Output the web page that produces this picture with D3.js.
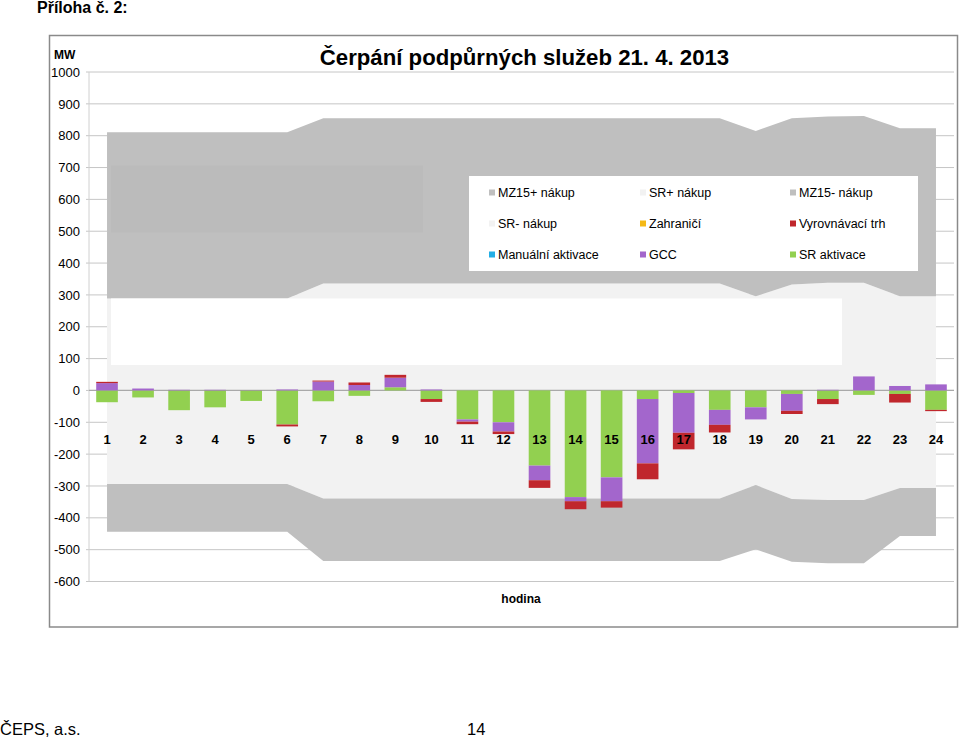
<!DOCTYPE html>
<html>
<head>
<meta charset="utf-8">
<script src="https://cdn.jsdelivr.net/npm/d3@7/dist/d3.min.js"></script>
<style>
  html, body { margin: 0; padding: 0; background: #fff; }
  svg { display: block; }
  text { font-family: "Liberation Sans", Arial, sans-serif; }
</style>
</head>
<body>
<svg id="chart" width="959" height="738"></svg>
<script>
// ---------- DATA ----------
const hours = [1,2,3,4,5,6,7,8,9,10,11,12,13,14,15,16,17,18,19,20,21,22,23,24];

// area series (MW)
const srPlus    = [289,289,289,289,289,289,336,336,336,336,336,336,336,336,336,336,336,336,296,333,338,338,296,296];
const mz15Plus  = [522,522,522,522,522,522,519,519,519,519,519,519,519,519,519,519,519,519,519,522,522,524,527,527];
const srMinus   = [-294,-294,-294,-294,-294,-294,-339,-339,-339,-339,-339,-339,-339,-339,-339,-339,-339,-339,-297,-341,-344,-344,-306,-306];
const mz15Minus = [-150,-150,-150,-150,-150,-150,-197,-197,-197,-197,-197,-197,-197,-197,-197,-197,-197,-197,-202,-197,-199,-199,-151,-151];

// bar series (MW)
const srAktivace  = [-37,-22,-62,-53,-33,-107,-34,-17,10,-27,-91,-100,-236,-335,-273,-27,-8,-61,-53,-11,-27,-14,-11,-61];
const gcc         = [23,6,2,2,1,3,28,17,30,3,-7,-29,-46,-13,-75,-202,-125,-47,-38,-53,2,44,14,19];
const manualni    = [0,0,0,0,0,0,0,0,0,0,0,0,0,0,0,0,0,0,0,0,0,0,0,0];
const vyrovnavaci = [4,0,0,0,0,-6,3,8,9,-9,-8,-8,-24,-25,-20,-50,-52,-24,0,-10,-16,0,-27,-4];
const zahranici   = [0,0,0,0,0,0,0,0,0,0,0,0,0,0,0,0,0,0,0,0,0,0,0,0];

const yTicks = [1000,900,800,700,600,500,400,300,200,100,0,-100,-200,-300,-400,-500,-600];

const legendLabels = ["MZ15+ nákup","SR+ nákup","MZ15- nákup","SR- nákup","Zahraničí","Vyrovnávací trh","Manuální aktivace","GCC","SR aktivace"];
const legendColors = ["#bfbfbf","#f2f2f2","#bfbfbf","#f2f2f2","#f5b916","#c0272d","#23aee5","#a366cc","#92d050"];

const titleText = "Čerpání podpůrných služeb 21. 4. 2013";

// ---------- LAYOUT ----------
const svg = d3.select("#chart");
const plotL = 89, plotR = 954, plotT = 72, plotB = 581.5;

const x = d3.scaleBand().domain(hours).range([plotL, plotR]).paddingInner(0.4).paddingOuter(0.2);
const xc = h => x(h) + x.bandwidth() / 2;
const y = d3.scaleLinear().domain([-600, 1000]).range([plotB, plotT]);

svg.append("rect").attr("width", 959).attr("height", 738).attr("fill", "#fff");

// gridlines
const grid = svg.append("g");
grid.selectAll("line").data(yTicks).join("line")
  .attr("x1", plotL - 3).attr("x2", plotR)
  .attr("y1", d => y(d)).attr("y2", d => y(d))
  .attr("stroke", "#c6c6c6").attr("stroke-width", 1);
// y axis line
svg.append("line").attr("x1", plotL).attr("x2", plotL).attr("y1", y(1000)).attr("y2", y(-600))
  .attr("stroke", "#d0d0d0").attr("stroke-width", 1);

// y labels via d3 axis (plain hyphen-minus as in the original)
const yAxis = d3.axisLeft(y).tickValues(yTicks).tickSize(0).tickPadding(9).tickFormat(d => String(d));
const gy = svg.append("g").attr("transform", `translate(${plotL},0)`).call(yAxis);
gy.select(".domain").remove();
gy.selectAll("text").attr("font-size", 13).attr("fill", "#000")
  .attr("font-family", "'Liberation Sans', Arial, sans-serif");

// ---------- AREAS ----------
const areaRows = hours.map((h, i) => ({ h, srPlus: srPlus[i], mz15Plus: mz15Plus[i], srMinus: srMinus[i], mz15Minus: mz15Minus[i] }));
const areaKeys = ["srPlus", "mz15Plus", "srMinus", "mz15Minus"];
const areaColor = { srPlus: "#f2f2f2", mz15Plus: "#bfbfbf", srMinus: "#f2f2f2", mz15Minus: "#bfbfbf" };
const areaStack = d3.stack().keys(areaKeys).offset(d3.stackOffsetDiverging)(areaRows);
const areaGen = d3.area().x(d => xc(d.data.h)).y0(d => y(d[0])).y1(d => y(d[1])).curve(d3.curveLinear);
svg.append("g").selectAll("path").data(areaStack).join("path")
  .attr("d", areaGen).attr("fill", d => areaColor[d.key]);

// leftover covered boxes in the original picture
svg.append("rect").attr("x", 111).attr("y", 165.5).attr("width", 312).attr("height", 67)
  .attr("fill", "#bbbbbb");
svg.append("rect").attr("x", 111).attr("y", 298.5).attr("width", 731).attr("height", 66.5)
  .attr("fill", "#ffffff");

// zero axis line
svg.append("line").attr("x1", plotL).attr("x2", plotR).attr("y1", y(0)).attr("y2", y(0))
  .attr("stroke", "#a9a9a9").attr("stroke-width", 1.2);

// ---------- BARS ----------
const barRows = hours.map((h, i) => ({ h, srAktivace: srAktivace[i], gcc: gcc[i], manualni: manualni[i], vyrovnavaci: vyrovnavaci[i], zahranici: zahranici[i] }));
const barKeys = ["srAktivace", "gcc", "manualni", "vyrovnavaci", "zahranici"];
const barColor = { srAktivace: "#92d050", gcc: "#a366cc", manualni: "#23aee5", vyrovnavaci: "#c0272d", zahranici: "#f5b916" };
const barStack = d3.stack().keys(barKeys).offset(d3.stackOffsetDiverging)(barRows);
svg.append("g").selectAll("g").data(barStack).join("g")
  .attr("fill", d => barColor[d.key])
  .selectAll("rect").data(d => d).join("rect")
  .attr("x", d => x(d.data.h))
  .attr("width", x.bandwidth())
  .attr("y", d => y(Math.max(d[0], d[1])))
  .attr("height", d => Math.abs(y(d[0]) - y(d[1])));

// category labels
svg.append("g").selectAll("text").data(hours).join("text")
  .attr("x", d => xc(d)).attr("y", 444)
  .attr("text-anchor", "middle").attr("font-size", 13).attr("font-weight", "bold")
  .text(d => d);

// ---------- LEGEND ----------
const lg = svg.append("g");
lg.append("rect").attr("x", 469).attr("y", 176).attr("width", 449).attr("height", 95).attr("fill", "#fff");
const colX = [489, 640, 790], rowY = [192.5, 223.5, 254.5];
legendLabels.forEach((lab, i) => {
  const cx = colX[i % 3], cy = rowY[Math.floor(i / 3)];
  lg.append("rect").attr("x", cx).attr("y", cy - 3).attr("width", 6).attr("height", 6).attr("fill", legendColors[i]);
  lg.append("text").attr("x", cx + 9).attr("y", cy + 4.5).attr("font-size", 12.5).text(lab);
});

// ---------- TEXTS ----------
svg.append("text").attr("x", 524.5).attr("y", 65).attr("text-anchor", "middle")
  .attr("font-size", 22.2).attr("font-weight", "bold").text(titleText);
svg.append("text").attr("x", 54).attr("y", 59).attr("font-size", 12).attr("font-weight", "bold").text("MW");
svg.append("text").attr("x", 521).attr("y", 603).attr("text-anchor", "middle")
  .attr("font-size", 12).attr("font-weight", "bold").text("hodina");

svg.append("text").attr("x", 37).attr("y", 12.5).attr("font-size", 16).attr("font-weight", "bold").text("Příloha č. 2:");
svg.append("text").attr("x", 0).attr("y", 735).attr("font-size", 16.5).text("ČEPS, a.s.");
svg.append("text").attr("x", 467).attr("y", 735).attr("font-size", 16.5).text("14");

// chart border
svg.append("rect").attr("x", 49.5).attr("y", 35.5).attr("width", 908).attr("height", 591.5)
  .attr("fill", "none").attr("stroke", "#8a8a8a").attr("stroke-width", 1.5);
</script>
</body>
</html>
